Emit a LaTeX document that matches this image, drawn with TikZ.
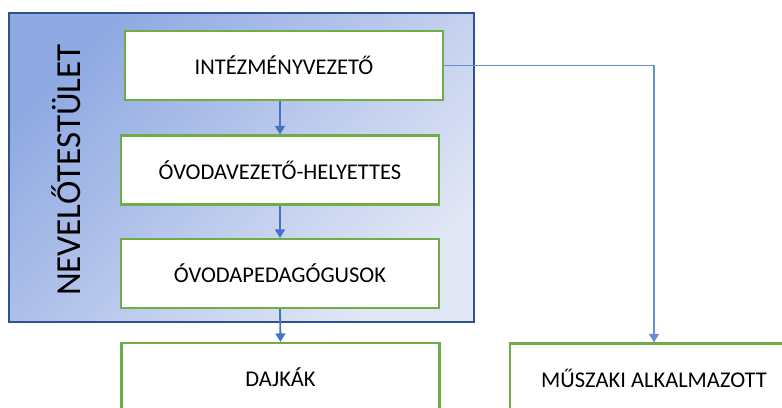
\documentclass[tikz,border=0pt]{standalone}
\usepackage{fontspec}
\setmainfont{Carlito}
\usetikzlibrary{arrows.meta}

\definecolor{boxgreen}{HTML}{70AD47}
\definecolor{arrowblue}{HTML}{4472C4}
\definecolor{frameblue}{HTML}{2F528F}
\definecolor{shadedark}{HTML}{8FA9E2}
\definecolor{shadelight}{HTML}{E2E7F6}

\tikzset{
  unitbox/.style={draw=boxgreen, line width=1.6pt, fill=white, minimum height=1.725cm,
    inner sep=0pt, font=\fontsize{16}{18}\selectfont},
  flow/.style={draw=arrowblue, line width=1.3pt, -{Triangle[width=7pt,length=6pt]}},
  thinflow/.style={draw=arrowblue!80, line width=0.8pt, -{Triangle[width=7pt,length=6pt]}}
}

\begin{document}
\begin{tikzpicture}
    \useasboundingbox (0, 0) rectangle (19.55, -10.175);
    \clip (0, 0) rectangle (19.55, -10.175);
    % teaching staff frame
    \shade[shading=axis, top color=shadedark, bottom color=shadelight, shading angle=45]
      (0.225, -0.325) rectangle (11.85, -8.05);
    \draw[frameblue, line width=1.4pt] (0.225, -0.325) rectangle (11.85, -8.05);
    \node[rotate=90, font=\fontsize{25}{28}\selectfont] (staff) at (1.65, -4.25) {NEVELŐTESTÜLET};

    \node[unitbox, minimum width=7.95cm] (head) at (7.1, -1.6375) {INTÉZMÉNYVEZETŐ};
    \node[unitbox, minimum width=7.95cm] (deputy) at (7.0, -4.25) {ÓVODAVEZETŐ-HELYETTES};
    \node[unitbox, minimum width=7.95cm] (teachers) at (7.0, -6.8375) {ÓVODAPEDAGÓGUSOK};
    \node[unitbox, minimum width=7.95cm] (nurses) at (7.0125, -9.4375) {DAJKÁK};
    \node[unitbox, minimum width=7.2cm] (tech) at (16.35, -9.45) {MŰSZAKI ALKALMAZOTT};

    \draw[flow] (deputy.north |- head.south) -- (deputy.north);
    \draw[flow] (deputy.south) -- (teachers.north);
    \draw[flow] (teachers.south) -- (nurses.north);
    \draw[thinflow] (head.east) -| (tech.north);
\end{tikzpicture}
\end{document}
